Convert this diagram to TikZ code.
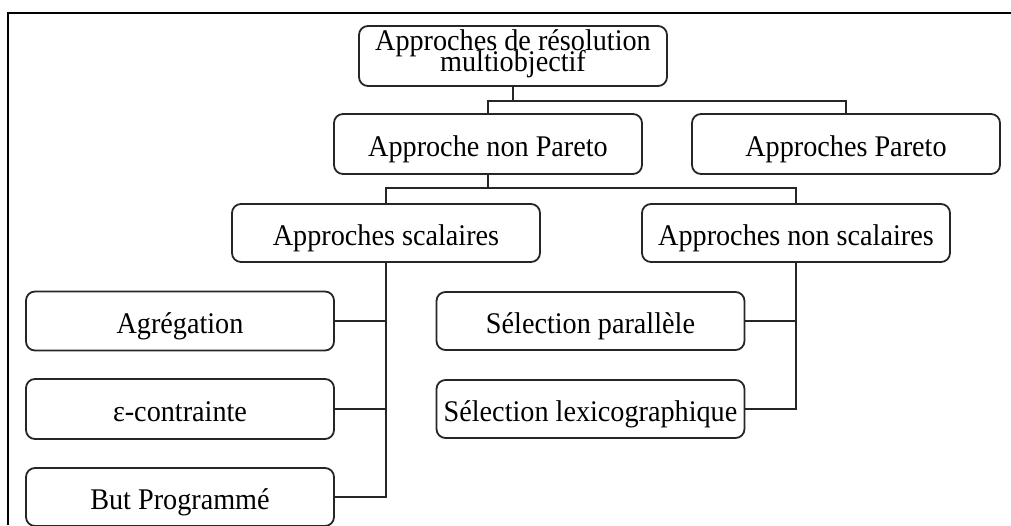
\documentclass[tikz,border=0pt]{standalone}
\usepackage{fontspec}
\setmainfont[FakeStretch=0.94]{Liberation Serif}
\newcommand\myboxfont{\fontsize{15}{10.5}\selectfont\lineskiplimit=-20pt\relax}
\begin{document}
\begin{tikzpicture}[x=0.5pt,y=-0.5pt,
  box/.style={draw=black!85, line width=0.9pt, rounded corners=4.5pt, minimum width=154pt, minimum height=30pt, inner sep=0pt, align=center, font=\myboxfont, text height=12.5pt, text depth=0pt},
  twoline/.style={text height=15pt, text depth=0pt},
  conn/.style={draw=black!85, line width=0.75pt},
  frame/.style={draw=black, line width=1pt}]
\useasboundingbox (0,0) rectangle (1011,525);
\clip (0,0) rectangle (1011,525);
\draw[frame] (8,525) -- (8,13) -- (1011,13);
\node[box, twoline] (top) at (513,56) {Approches de résolution\\multiobjectif};
\node[box] (nonpareto) at (488,144) {Approche non Pareto};
\node[box] (pareto) at (846,144) {Approches Pareto};
\node[box, minimum height=29pt] (scal) at (386,233) {Approches scalaires};
\node[box, minimum height=29pt] (nonscal) at (796,233) {Approches non scalaires};
\node[box, minimum height=29.5pt] (agr) at (180,321) {Agrégation};
\node[box] (eps) at (180,409) {ε-contrainte};
\node[box, minimum height=29pt] (but) at (180,497) {But Programmé};
\node[box, minimum height=29pt] (selpar) at (590.5,321) {Sélection parallèle};
\node[box, minimum height=29pt] (sellex) at (590.5,409) {Sélection lexicographique};
\coordinate (j1) at (513,101);
\coordinate (j2) at (488,188);
\draw[conn] (top.south) -- (j1);
\draw[conn] (nonpareto.north) |- (j1) -| (pareto.north);
\draw[conn] (nonpareto.south) -- (j2);
\draw[conn] (scal.north) |- (j2) -| (nonscal.north);
\draw[conn] (scal.south) |- (but.east);
\draw[conn] (agr.east) -- (agr.east -| scal.south);
\draw[conn] (eps.east) -- (eps.east -| scal.south);
\draw[conn] (nonscal.south) |- (sellex.east);
\draw[conn] (selpar.east) -- (selpar.east -| nonscal.south);
\end{tikzpicture}
\end{document}
